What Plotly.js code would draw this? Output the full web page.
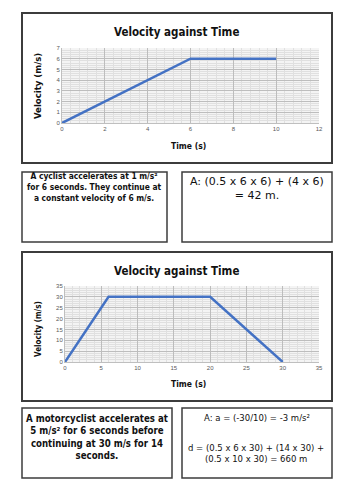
<!DOCTYPE html>
<html><head><meta charset="utf-8">
<script src="https://cdn.plot.ly/plotly-3.0.1.min.js"></script>
<style>html,body{margin:0;padding:0;background:#fff;}#c{width:353px;height:500px;}</style>
</head><body><div id="c"></div>
<script>
// Data
var time1 = [0, 6, 10];
var velocity1 = [0, 6, 6];
var time2 = [0, 6, 20, 30];
var velocity2 = [0, 30, 30, 0];
var chartTitle = "Velocity against Time";
var xTitle = "Time (s)";
var yTitle = "Velocity (m/s)";
var text1 = "A cyclist accelerates at 1 m/s²<br>for 6 seconds. They continue at<br>a constant velocity of 6 m/s.";
var answer1 = "A: (0.5 x 6 x 6) + (4 x 6)<br>= 42 m.";
var text2 = "A motorcyclist accelerates at<br>5 m/s² for 6 seconds before<br>continuing at 30 m/s for 14<br>seconds.";
var answer2a = "A: a = (-30/10) = -3 m/s²";
var answer2b = "d = (0.5 x 6 x 30) + (14 x 30) +<br>(0.5 x 10 x 30) = 660 m";

var W = 353, H = 500;
function px(x){return x / W;}
function py(y){return 1 - y / H;}

var blue = "#4472c4";
var traces = [
  {x: time1, y: velocity1, type: "scatter", mode: "lines", line: {color: blue, width: 2.5}, xaxis: "x", yaxis: "y", hoverinfo: "skip"},
  {x: time2, y: velocity2, type: "scatter", mode: "lines", line: {color: blue, width: 2.5}, xaxis: "x2", yaxis: "y2", hoverinfo: "skip"}
];

function ax(domain, range, dtick, minorDtick, anchor){
  return {
    domain: domain, range: range, dtick: dtick, tick0: 0, anchor: anchor,
    showgrid: true, gridcolor: "#bdbdbd", gridwidth: 1,
    minor: {dtick: minorDtick, tick0: 0, showgrid: true, gridcolor: "#e0e0e0", gridwidth: 1},
    zeroline: false, showline: true, linecolor: "#bfbfbf", linewidth: 1,
    ticks: "", tickfont: {family: "Liberation Sans, Arial", size: 6, color: "#595959"},
    fixedrange: true
  };
}

var COND = "DejaVu Sans Condensed";
function ann(text, x, y, size, opts, family){
  var a = {text: text, xref: "paper", yref: "paper", x: px(x), y: py(y), xanchor: "center", yanchor: "middle",
    showarrow: false, align: "center", font: {family: family || "DejaVu Sans", size: size, color: "#111"}};
  return Object.assign(a, opts || {});
}

var layout = {
  width: W, height: H,
  margin: {l: 0, r: 0, t: 0, b: 0},
  paper_bgcolor: "#ffffff",
  plot_bgcolor: "#f4f4f4",
  showlegend: false,
  xaxis: ax([px(62), px(319)], [0, 12], 2, 0.4, "y"),
  yaxis: ax([py(123), py(48)], [0, 7], 1, 0.2, "x"),
  xaxis2: ax([px(65), px(319)], [0, 35], 5, 1, "y2"),
  yaxis2: ax([py(362), py(286)], [0, 35], 5, 1, "x2"),
  shapes: [
    {type: "rect", xref: "paper", yref: "paper", x0: px(22), x1: px(332), y0: py(163), y1: py(13), line: {color: "#3c3c3c", width: 2}},
    {type: "rect", xref: "paper", yref: "paper", x0: px(22), x1: px(167), y0: py(242), y1: py(172), line: {color: "#3c3c3c", width: 1.5}},
    {type: "rect", xref: "paper", yref: "paper", x0: px(182), x1: px(332), y0: py(242), y1: py(172), line: {color: "#3c3c3c", width: 1.5}},
    {type: "rect", xref: "paper", yref: "paper", x0: px(22), x1: px(332), y0: py(401), y1: py(252), line: {color: "#3c3c3c", width: 2}},
    {type: "rect", xref: "paper", yref: "paper", x0: px(22), x1: px(172), y0: py(478), y1: py(408), line: {color: "#3c3c3c", width: 1.5}},
    {type: "rect", xref: "paper", yref: "paper", x0: px(182), x1: px(332), y0: py(478), y1: py(408), line: {color: "#3c3c3c", width: 1.5}}
  ],
  annotations: [
    ann("<b>" + chartTitle + "</b>", 176, 32, 11.5, null, COND),
    ann("<b>" + xTitle + "</b>", 188, 146, 8.5, null, COND),
    ann("<b>" + yTitle + "</b>", 38, 86, 9.5, {textangle: -90}, COND),
    ann("<b>" + chartTitle + "</b>", 176, 271, 11.5, null, COND),
    ann("<b>" + xTitle + "</b>", 188, 384, 8.5, null, COND),
    ann("<b>" + yTitle + "</b>", 38, 329, 8, {textangle: -90}, COND),
    ann("<b>" + text1 + "</b>", 95, 187, 8.4, null, COND),
    ann(answer1, 257, 188, 11),
    ann("<b>" + text2 + "</b>", 97, 437, 9.6, null, COND),
    ann(answer2a, 257, 418, 8.5),
    ann(answer2b, 256, 453, 8.5)
  ]
};

Plotly.newPlot("c", traces, layout, {staticPlot: true, displayModeBar: false});
</script>
</body></html>
